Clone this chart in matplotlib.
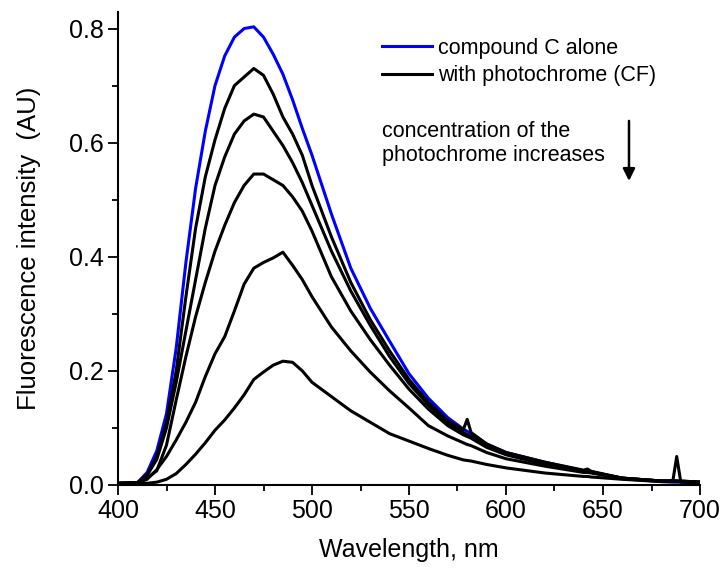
import matplotlib
matplotlib.use("Agg")
import matplotlib.pyplot as plt
from matplotlib.ticker import MultipleLocator

plt.rcParams['font.family'] = ['Liberation Sans', 'DejaVu Sans']

wavelength = [400, 410, 415, 420, 425, 430, 435, 440, 445, 450, 455, 460, 465, 470, 475,
              480, 485, 490, 495, 500, 510, 520, 530, 540, 550, 560, 570, 578, 580, 582,
              590, 600, 620, 640, 642, 644, 660, 680, 686, 688, 690, 700]

compound_c_alone = [0.003, 0.004, 0.022, 0.060, 0.125, 0.240, 0.390, 0.520, 0.620, 0.700,
                    0.752, 0.785, 0.800, 0.803, 0.785, 0.755, 0.720, 0.675, 0.625, 0.578,
                    0.475, 0.380, 0.310, 0.252, 0.195, 0.152, 0.118, 0.098, 0.094, 0.090,
                    0.072, 0.057, 0.040, 0.025, 0.024, 0.022, 0.011, 0.006, 0.005, 0.005,
                    0.005, 0.004]

with_cf_1 = [0.003, 0.004, 0.018, 0.050, 0.110, 0.200, 0.330, 0.450, 0.540, 0.605,
             0.660, 0.700, 0.715, 0.730, 0.718, 0.685, 0.645, 0.615, 0.578, 0.525,
             0.435, 0.355, 0.290, 0.235, 0.185, 0.145, 0.113, 0.097, 0.115, 0.092,
             0.072, 0.057, 0.040, 0.026, 0.028, 0.024, 0.012, 0.007, 0.007, 0.007,
             0.007, 0.005]

with_cf_2 = [0.003, 0.004, 0.017, 0.045, 0.100, 0.180, 0.270, 0.360, 0.450, 0.525,
             0.575, 0.615, 0.638, 0.650, 0.645, 0.620, 0.595, 0.565, 0.530, 0.490,
             0.410, 0.340, 0.280, 0.225, 0.178, 0.140, 0.108, 0.092, 0.088, 0.085,
             0.068, 0.055, 0.038, 0.025, 0.024, 0.023, 0.012, 0.007, 0.007, 0.050,
             0.007, 0.005]

with_cf_3 = [0.003, 0.004, 0.012, 0.025, 0.070, 0.149, 0.225, 0.295, 0.355, 0.410,
             0.455, 0.495, 0.525, 0.545, 0.545, 0.535, 0.525, 0.505, 0.480, 0.445,
             0.365, 0.305, 0.255, 0.210, 0.168, 0.133, 0.104, 0.088, 0.085, 0.082,
             0.066, 0.053, 0.036, 0.024, 0.023, 0.022, 0.012, 0.007, 0.007, 0.007,
             0.006, 0.005]

with_cf_4 = [0.003, 0.004, 0.010, 0.027, 0.050, 0.079, 0.110, 0.145, 0.190, 0.230,
             0.260, 0.305, 0.352, 0.380, 0.390, 0.398, 0.408, 0.385, 0.360, 0.330,
             0.277, 0.235, 0.198, 0.165, 0.135, 0.104, 0.086, 0.074, 0.071, 0.069,
             0.057, 0.046, 0.033, 0.022, 0.022, 0.021, 0.012, 0.007, 0.007, 0.007,
             0.006, 0.005]

with_cf_5 = [0.002, 0.003, 0.003, 0.005, 0.010, 0.020, 0.036, 0.054, 0.074, 0.096,
             0.114, 0.135, 0.158, 0.185, 0.198, 0.210, 0.217, 0.215, 0.200, 0.180,
             0.155, 0.130, 0.110, 0.090, 0.077, 0.064, 0.052, 0.044, 0.043, 0.042,
             0.036, 0.030, 0.021, 0.015, 0.015, 0.014, 0.010, 0.006, 0.006, 0.006,
             0.005, 0.004]

quenched_series = [with_cf_1, with_cf_2, with_cf_3, with_cf_4, with_cf_5]

label_alone = "compound C alone"
label_cf = "with photochrome (CF)"
note_text = "concentration of the\nphotochrome increases"
x_label = "Wavelength, nm"
y_label = "Fluorescence intensity  (AU)"
x_ticks = [400, 450, 500, 550, 600, 650, 700]
y_ticks = [0.0, 0.2, 0.4, 0.6, 0.8]

fig = plt.figure(figsize=(7.22, 5.69), dpi=100)
ax = fig.add_axes([118 / 722, 84 / 569, 582 / 722, 473 / 569])

ax.plot(wavelength, compound_c_alone, color='#0000ff', lw=2.2, label=label_alone, zorder=2)
for i, s in enumerate(quenched_series):
    ax.plot(wavelength, s, color='black', lw=2.2, label=label_cf if i == 0 else None, zorder=3)

ax.set_xlim(400, 700)
ax.set_ylim(0, 0.829)
ax.set_xticks(x_ticks)
ax.set_yticks(y_ticks)
ax.set_yticklabels([f"{v:.1f}" for v in y_ticks])
ax.xaxis.set_minor_locator(MultipleLocator(25))
ax.yaxis.set_minor_locator(MultipleLocator(0.1))
ax.tick_params(which='major', direction='out', length=7, width=1.3, labelsize=18, pad=3)
ax.tick_params(which='minor', direction='out', length=4.5, width=1.3)
for side in ['top', 'right']:
    ax.spines[side].set_visible(False)
for side in ['left', 'bottom']:
    ax.spines[side].set_linewidth(1.5)

ax.set_xlabel(x_label, fontsize=18, labelpad=11)
ax.set_ylabel(y_label, fontsize=18.5, labelpad=20)

leg = ax.legend(loc='upper left', bbox_to_anchor=(0.453, 0.945), frameon=False,
                fontsize=15.5, handlelength=2.35, handletextpad=0.25, labelspacing=0.3,
                borderaxespad=0, borderpad=0)

ax.text(536, 0.598, note_text, fontsize=15.5, va='center', ha='left', linespacing=1.2)
ax.annotate('', xy=(663.4, 0.528), xytext=(663.4, 0.643),
            arrowprops=dict(arrowstyle='-|>', color='black', lw=1.8, mutation_scale=18))

fig.savefig('out.png', dpi=100)
